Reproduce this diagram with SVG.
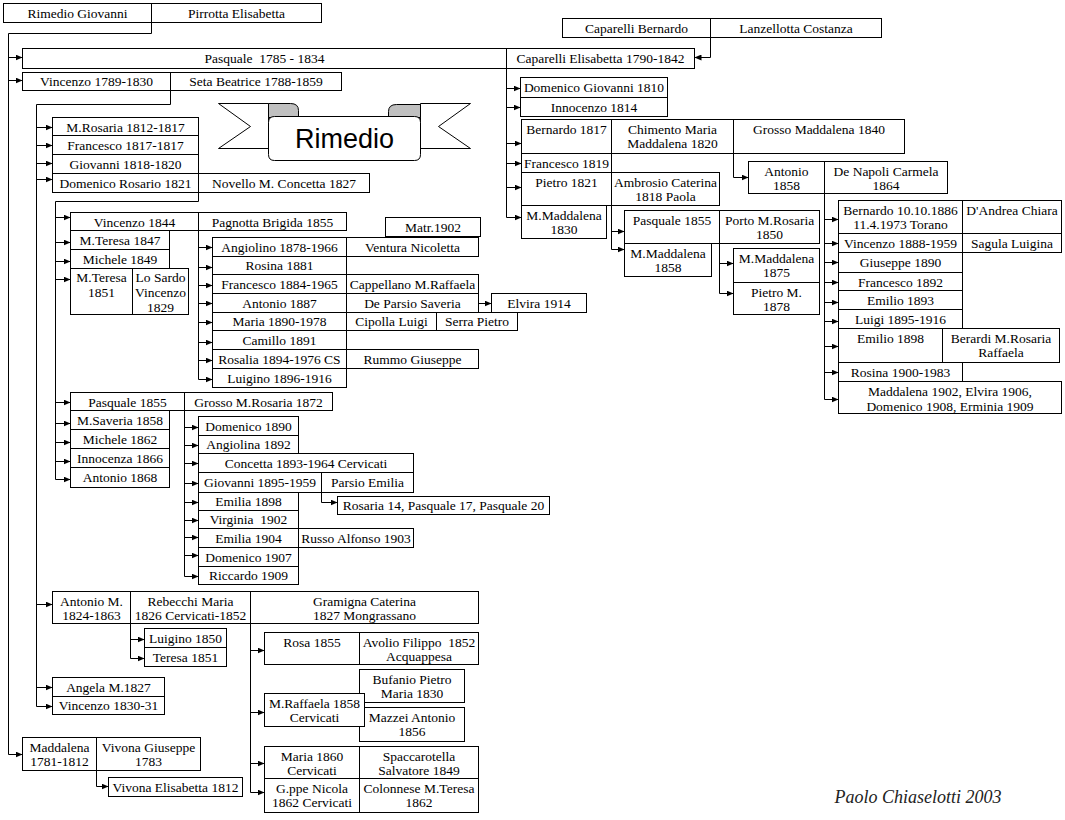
<svg xmlns="http://www.w3.org/2000/svg" width="1065" height="820" viewBox="0 0 1065 820">
<defs>
<style>
.b{fill:#fff;stroke:#000;stroke-width:1}
.t{font-family:"Liberation Serif","Times New Roman",serif;font-size:13.5px;text-anchor:middle;fill:#000}
.c{fill:none;stroke:#000;stroke-width:1}
.a{marker-end:url(#ah)}
.p{white-space:pre}
</style>
<marker id="ah" markerWidth="7" markerHeight="6" refX="7" refY="3" orient="auto" markerUnits="userSpaceOnUse"><path d="M0,0 L7,3 L0,6 Z" fill="#000"/></marker>
</defs>
<rect width="1065" height="820" fill="#fff"/>
<g transform="translate(0.5,0.5)">
<g id="connectors">
<path class="c a" d="M151,22 V33 H8 V754 H22"/>
<path class="c a" d="M8,57 H22"/>
<path class="c a" d="M8,80 H22"/>
<path class="c a" d="M710,37 V57 H694"/>
<path class="c a" d="M506,68 V217 H521"/>
<path class="c a" d="M506,88 H520"/>
<path class="c a" d="M506,107 H520"/>
<path class="c a" d="M506,143 H521"/>
<path class="c a" d="M506,163 H521"/>
<path class="c a" d="M506,187 H521"/>
<path class="c a" d="M170,90 V104 H36 V706 H52"/>
<path class="c a" d="M36,127 H52"/>
<path class="c a" d="M36,145 H52"/>
<path class="c a" d="M36,163 H52"/>
<path class="c a" d="M36,179 H52"/>
<path class="c a" d="M36,604 H52"/>
<path class="c a" d="M36,687 H52"/>
<path class="c a" d="M198,192 V201 H55 V479 H70"/>
<path class="c a" d="M55,217 H70"/>
<path class="c a" d="M55,242 H70"/>
<path class="c a" d="M55,261 H70"/>
<path class="c a" d="M55,279 H70"/>
<path class="c a" d="M55,402 H70"/>
<path class="c a" d="M55,423 H70"/>
<path class="c a" d="M55,442 H70"/>
<path class="c a" d="M55,461 H70"/>
<path class="c a" d="M198,230 V379 H212"/>
<path class="c a" d="M198,247 H212"/>
<path class="c a" d="M198,267 H212"/>
<path class="c a" d="M198,285 H212"/>
<path class="c a" d="M198,303 H212"/>
<path class="c a" d="M198,322 H212"/>
<path class="c a" d="M198,342 H212"/>
<path class="c a" d="M198,360 H212"/>
<path class="c a" d="M478,303 H491"/>
<path class="c a" d="M184,410 V576 H198"/>
<path class="c a" d="M184,427 H198"/>
<path class="c a" d="M184,445 H198"/>
<path class="c a" d="M184,463 H198"/>
<path class="c a" d="M184,483 H198"/>
<path class="c a" d="M184,502 H198"/>
<path class="c a" d="M184,520 H198"/>
<path class="c a" d="M184,537 H198"/>
<path class="c a" d="M184,555 H198"/>
<path class="c a" d="M321,492 V502 H337"/>
<path class="c a" d="M733,153 V177 H748"/>
<path class="c a" d="M611,205 V249 H624"/>
<path class="c a" d="M611,231 H624"/>
<path class="c a" d="M719,243 V293 H733"/>
<path class="c a" d="M719,263 H733"/>
<path class="c a" d="M824,193 V399 H838"/>
<path class="c a" d="M824,219 H838"/>
<path class="c a" d="M824,243 H838"/>
<path class="c a" d="M824,262 H838"/>
<path class="c a" d="M824,282 H838"/>
<path class="c a" d="M824,302 H838"/>
<path class="c a" d="M824,321 H838"/>
<path class="c a" d="M824,346 H838"/>
<path class="c a" d="M824,372 H838"/>
<path class="c a" d="M130,623 V658 H144"/>
<path class="c a" d="M130,639 H144"/>
<path class="c a" d="M250,623 V792 H264"/>
<path class="c a" d="M250,650 H264"/>
<path class="c a" d="M250,712 H264"/>
<path class="c a" d="M250,763 H264"/>
<path class="c a" d="M96,770 V786 H108"/>
</g>
<g id="banner">
<path class="b" d="M218,103 H268 V148 H218 L250,126 Z"/>
<path class="b" d="M420,103 H470 L438,126 L470,148 H420 Z"/>
<path d="M268,117 V103 H290 Q298,103 298,110 V117 Z" fill="#c0c0c0" stroke="#000"/>
<path d="M420,117 V104 H396 Q388,104 388,111 V117 Z" fill="#c0c0c0" stroke="#000"/>
<path class="b" d="M268,122 Q268,116 274,116 H414 Q420,116 420,122 V154 Q420,160 414,160 H274 Q268,160 268,154 Z"/>
<text x="344" y="147" style="font-family:'Liberation Sans',Arial,sans-serif;font-size:27px;text-anchor:middle">Rimedio</text>
</g>
<g id="n1"><rect class="b" x="3" y="3" width="148" height="19"/><text class="t" x="77" y="17">Rimedio Giovanni</text></g>
<g id="n2"><rect class="b" x="151" y="3" width="170" height="19"/><text class="t" x="236" y="17">Pirrotta Elisabetta</text></g>
<g id="n3"><rect class="b" x="562" y="18" width="148" height="19"/><text class="t" x="636" y="32">Caparelli Bernardo</text></g>
<g id="n4"><rect class="b" x="710" y="18" width="171" height="19"/><text class="t" x="795.5" y="32">Lanzellotta Costanza</text></g>
<g id="n5"><rect class="b" x="22" y="48" width="484" height="20"/><text class="t p" x="264" y="62">Pasquale  1785 - 1834</text></g>
<g id="n6"><rect class="b" x="506" y="48" width="188" height="20"/><text class="t" x="600" y="62">Caparelli Elisabetta 1790-1842</text></g>
<g id="n7"><rect class="b" x="22" y="72" width="148" height="18"/><text class="t" x="96" y="85">Vincenzo 1789-1830</text></g>
<g id="n8"><rect class="b" x="170" y="72" width="171" height="18"/><text class="t" x="255.5" y="85">Seta Beatrice 1788-1859</text></g>
<g id="n9"><rect class="b" x="52" y="117" width="146" height="18"/><text class="t" x="125" y="131">M.Rosaria 1812-1817</text></g>
<g id="n10"><rect class="b" x="52" y="135" width="146" height="19"/><text class="t" x="125" y="149">Francesco 1817-1817</text></g>
<g id="n11"><rect class="b" x="52" y="154" width="146" height="19"/><text class="t" x="125" y="168">Giovanni 1818-1820</text></g>
<g id="n12"><rect class="b" x="52" y="173" width="146" height="19"/><text class="t" x="125" y="187">Domenico Rosario 1821</text></g>
<g id="n13"><rect class="b" x="198" y="173" width="171" height="19"/><text class="t" x="283.5" y="187">Novello M. Concetta 1827</text></g>
<g id="n14"><rect class="b" x="520" y="77" width="147" height="20"/><text class="t" x="593.5" y="91">Domenico Giovanni 1810</text></g>
<g id="n15"><rect class="b" x="520" y="97" width="147" height="19"/><text class="t" x="593.5" y="111">Innocenzo 1814</text></g>
<g id="n16"><rect class="b" x="521" y="119" width="90" height="34"/><text class="t" x="566" y="133">Bernardo 1817</text></g>
<g id="n17"><rect class="b" x="611" y="119" width="122" height="34"/><text class="t" x="672" y="133">Chimento Maria</text><text class="t" x="672" y="147.5">Maddalena 1820</text></g>
<g id="n18"><rect class="b" x="733" y="119" width="171" height="34"/><text class="t" x="818.5" y="133">Grosso Maddalena 1840</text></g>
<g id="n19"><rect class="b" x="521" y="153" width="90" height="19"/><text class="t" x="566" y="167">Francesco 1819</text></g>
<g id="n20"><rect class="b" x="521" y="172" width="90" height="33"/><text class="t" x="566" y="186">Pietro 1821</text></g>
<g id="n21"><rect class="b" x="611" y="172" width="108" height="33"/><text class="t" x="665" y="186">Ambrosio Caterina</text><text class="t" x="665" y="200.5">1818 Paola</text></g>
<g id="n22"><rect class="b" x="521" y="205" width="85" height="33"/><text class="t" x="563.5" y="219">M.Maddalena</text><text class="t" x="563.5" y="233.5">1830</text></g>
<g id="n23"><rect class="b" x="748" y="161" width="76" height="32"/><text class="t" x="786" y="175">Antonio</text><text class="t" x="786" y="189.5">1858</text></g>
<g id="n24"><rect class="b" x="824" y="161" width="123" height="32"/><text class="t" x="885.5" y="175">De Napoli Carmela</text><text class="t" x="885.5" y="189.5">1864</text></g>
<g id="n25"><rect class="b" x="624" y="210" width="95" height="33"/><text class="t" x="671.5" y="224">Pasquale 1855</text></g>
<g id="n26"><rect class="b" x="719" y="210" width="100" height="33"/><text class="t" x="769" y="224">Porto M.Rosaria</text><text class="t" x="769" y="238.5">1850</text></g>
<g id="n27"><rect class="b" x="624" y="243" width="87" height="33"/><text class="t" x="667.5" y="257">M.Maddalena</text><text class="t" x="667.5" y="271.5">1858</text></g>
<g id="n28"><rect class="b" x="733" y="248" width="86" height="34"/><text class="t" x="776" y="262">M.Maddalena</text><text class="t" x="776" y="276.5">1875</text></g>
<g id="n29"><rect class="b" x="733" y="282" width="86" height="32"/><text class="t" x="776" y="296">Pietro M.</text><text class="t" x="776" y="310.5">1878</text></g>
<g id="n30"><rect class="b" x="838" y="200" width="124" height="33"/><text class="t" x="900" y="214">Bernardo 10.10.1886</text><text class="t" x="900" y="228.5">11.4.1973 Torano</text></g>
<g id="n31"><rect class="b" x="962" y="200" width="99" height="33"/><text class="t" x="1011.5" y="214">D'Andrea Chiara</text></g>
<g id="n32"><rect class="b" x="838" y="233" width="124" height="19"/><text class="t" x="900" y="247">Vincenzo 1888-1959</text></g>
<g id="n33"><rect class="b" x="962" y="233" width="99" height="19"/><text class="t" x="1011.5" y="247">Sagula Luigina</text></g>
<g id="n34"><rect class="b" x="838" y="252" width="124" height="20"/><text class="t" x="900" y="266">Giuseppe 1890</text></g>
<g id="n35"><rect class="b" x="838" y="272" width="124" height="18"/><text class="t" x="900" y="286">Francesco 1892</text></g>
<g id="n36"><rect class="b" x="838" y="290" width="124" height="19"/><text class="t" x="900" y="304">Emilio 1893</text></g>
<g id="n37"><rect class="b" x="838" y="309" width="124" height="19"/><text class="t" x="900" y="323">Luigi 1895-1916</text></g>
<g id="n38"><rect class="b" x="838" y="328" width="104" height="34"/><text class="t" x="890" y="342">Emilio 1898</text></g>
<g id="n39"><rect class="b" x="942" y="328" width="117" height="34"/><text class="t" x="1000.5" y="342">Berardi M.Rosaria</text><text class="t" x="1000.5" y="356.5">Raffaela</text></g>
<g id="n40"><rect class="b" x="838" y="362" width="124" height="19"/><text class="t" x="900" y="376">Rosina 1900-1983</text></g>
<g id="n41"><rect class="b" x="838" y="381" width="223" height="32"/><text class="t" x="949.5" y="395">Maddalena 1902, Elvira 1906,</text><text class="t" x="949.5" y="410">Domenico 1908, Erminia 1909</text></g>
<g id="n42"><rect class="b" x="70" y="212" width="128" height="18"/><text class="t" x="134" y="226">Vincenzo 1844</text></g>
<g id="n43"><rect class="b" x="198" y="212" width="148" height="18"/><text class="t" x="272" y="226">Pagnotta Brigida 1855</text></g>
<g id="n44"><rect class="b" x="70" y="230" width="99" height="19"/><text class="t" x="119.5" y="244.5">M.Teresa 1847</text></g>
<g id="n45"><rect class="b" x="70" y="249" width="99" height="19"/><text class="t" x="119.5" y="263">Michele 1849</text></g>
<g id="n46"><rect class="b" x="70" y="268" width="62" height="46"/><text class="t" x="101" y="281.5">M.Teresa</text><text class="t" x="101" y="296.5">1851</text></g>
<g id="n47"><rect class="b" x="132" y="268" width="56" height="46"/><text class="t" x="160" y="281.5">Lo Sardo</text><text class="t" x="160" y="296.5">Vincenzo</text><text class="t" x="160" y="311">1829</text></g>
<g id="n48"><rect class="b" x="385" y="217" width="95" height="19"/><text class="t" x="432.5" y="231">Matr.1902</text></g>
<g id="n49"><rect class="b" x="212" y="237" width="134" height="19"/><text class="t" x="279" y="251">Angiolino 1878-1966</text></g>
<g id="n50"><rect class="b" x="346" y="237" width="132" height="19"/><text class="t" x="412" y="251">Ventura Nicoletta</text></g>
<g id="n51"><rect class="b" x="212" y="256" width="134" height="18"/><text class="t" x="279" y="269.5">Rosina 1881</text></g>
<g id="n52"><rect class="b" x="212" y="274" width="134" height="19"/><text class="t" x="279" y="288">Francesco 1884-1965</text></g>
<g id="n53"><rect class="b" x="346" y="274" width="132" height="19"/><text class="t" x="412" y="288">Cappellano M.Raffaela</text></g>
<g id="n54"><rect class="b" x="212" y="293" width="134" height="19"/><text class="t" x="279" y="307">Antonio 1887</text></g>
<g id="n55"><rect class="b" x="346" y="293" width="132" height="19"/><text class="t" x="412" y="307">De Parsio Saveria</text></g>
<g id="n56"><rect class="b" x="491" y="293" width="95" height="19"/><text class="t" x="538.5" y="307">Elvira 1914</text></g>
<g id="n57"><rect class="b" x="212" y="312" width="134" height="18"/><text class="t" x="279" y="325.5">Maria 1890-1978</text></g>
<g id="n58"><rect class="b" x="346" y="312" width="90" height="18"/><text class="t" x="391" y="325.5">Cipolla Luigi</text></g>
<g id="n59"><rect class="b" x="436" y="312" width="81" height="18"/><text class="t" x="476.5" y="325.5">Serra Pietro</text></g>
<g id="n60"><rect class="b" x="212" y="330" width="134" height="19"/><text class="t" x="279" y="344">Camillo 1891</text></g>
<g id="n61"><rect class="b" x="212" y="349" width="134" height="19"/><text class="t" x="279" y="363">Rosalia 1894-1976 CS</text></g>
<g id="n62"><rect class="b" x="346" y="349" width="132" height="19"/><text class="t" x="412" y="363">Rummo Giuseppe</text></g>
<g id="n63"><rect class="b" x="212" y="368" width="134" height="19"/><text class="t" x="279" y="382">Luigino 1896-1916</text></g>
<g id="n64"><rect class="b" x="70" y="392" width="114" height="18"/><text class="t" x="127" y="406">Pasquale 1855</text></g>
<g id="n65"><rect class="b" x="184" y="392" width="148" height="18"/><text class="t" x="258" y="406">Grosso M.Rosaria 1872</text></g>
<g id="n66"><rect class="b" x="70" y="410" width="99" height="19"/><text class="t" x="119.5" y="424.5">M.Saveria 1858</text></g>
<g id="n67"><rect class="b" x="70" y="429" width="99" height="19"/><text class="t" x="119.5" y="443">Michele 1862</text></g>
<g id="n68"><rect class="b" x="70" y="448" width="99" height="19"/><text class="t" x="119.5" y="462">Innocenza 1866</text></g>
<g id="n69"><rect class="b" x="70" y="467" width="99" height="20"/><text class="t" x="119.5" y="481.5">Antonio 1868</text></g>
<g id="n70"><rect class="b" x="198" y="416" width="100" height="19"/><text class="t" x="248" y="430">Domenico 1890</text></g>
<g id="n71"><rect class="b" x="198" y="435" width="100" height="18"/><text class="t" x="248" y="448.5">Angiolina 1892</text></g>
<g id="n72"><rect class="b" x="198" y="453" width="215" height="19"/><text class="t" x="305.5" y="467">Concetta 1893-1964 Cervicati</text></g>
<g id="n73"><rect class="b" x="198" y="472" width="123" height="20"/><text class="t" x="259.5" y="486.5">Giovanni 1895-1959</text></g>
<g id="n74"><rect class="b" x="321" y="472" width="92" height="20"/><text class="t" x="367" y="486.5">Parsio Emilia</text></g>
<g id="n75"><rect class="b" x="337" y="496" width="212" height="18"/><text class="t" x="443" y="509.5">Rosaria 14, Pasquale 17, Pasquale 20</text></g>
<g id="n76"><rect class="b" x="198" y="492" width="100" height="18"/><text class="t" x="248" y="505.5">Emilia 1898</text></g>
<g id="n77"><rect class="b" x="198" y="510" width="100" height="18"/><text class="t p" x="248" y="523.5">Virginia  1902</text></g>
<g id="n78"><rect class="b" x="198" y="528" width="100" height="19"/><text class="t" x="248" y="542">Emilia 1904</text></g>
<g id="n79"><rect class="b" x="298" y="528" width="115" height="19"/><text class="t" x="355.5" y="542">Russo Alfonso 1903</text></g>
<g id="n80"><rect class="b" x="198" y="547" width="100" height="19"/><text class="t" x="248" y="561">Domenico 1907</text></g>
<g id="n81"><rect class="b" x="198" y="566" width="100" height="18"/><text class="t" x="248" y="579.5">Riccardo 1909</text></g>
<g id="n82"><rect class="b" x="52" y="591" width="78" height="32"/><text class="t" x="91" y="605">Antonio M.</text><text class="t" x="91" y="619.5">1824-1863</text></g>
<g id="n83"><rect class="b" x="130" y="591" width="120" height="32"/><text class="t" x="190" y="605">Rebecchi Maria</text><text class="t" x="190" y="619.5">1826 Cervicati-1852</text></g>
<g id="n84"><rect class="b" x="250" y="591" width="228" height="32"/><text class="t" x="364" y="605">Gramigna Caterina</text><text class="t" x="364" y="619.5">1827 Mongrassano</text></g>
<g id="n85"><rect class="b" x="144" y="628" width="82" height="19"/><text class="t" x="185" y="642.5">Luigino 1850</text></g>
<g id="n86"><rect class="b" x="144" y="647" width="82" height="19"/><text class="t" x="185" y="661">Teresa 1851</text></g>
<g id="n87"><rect class="b" x="52" y="677" width="112" height="19"/><text class="t" x="108" y="691">Angela M.1827</text></g>
<g id="n88"><rect class="b" x="52" y="696" width="112" height="18"/><text class="t" x="108" y="709.5">Vincenzo 1830-31</text></g>
<g id="n89"><rect class="b" x="264" y="632" width="95" height="32"/><text class="t" x="311.5" y="646">Rosa 1855</text></g>
<g id="n90"><rect class="b" x="359" y="632" width="119" height="32"/><text class="t p" x="418.5" y="646">Avolio Filippo  1852</text><text class="t" x="418.5" y="660.5">Acquappesa</text></g>
<g id="n91"><rect class="b" x="359" y="669" width="105" height="33"/><text class="t" x="411.5" y="683">Bufanio Pietro</text><text class="t" x="411.5" y="697.5">Maria 1830</text></g>
<g id="n93"><rect class="b" x="359" y="707" width="105" height="34"/><text class="t" x="411.5" y="721">Mazzei Antonio</text><text class="t" x="411.5" y="735.5">1856</text></g>
<g id="n92"><rect class="b" x="264" y="693" width="100" height="33"/><text class="t" x="314" y="707">M.Raffaela 1858</text><text class="t" x="314" y="721.5">Cervicati</text></g>
<g id="n94"><rect class="b" x="264" y="746" width="95" height="32"/><text class="t" x="311.5" y="760">Maria 1860</text><text class="t" x="311.5" y="774.5">Cervicati</text></g>
<g id="n95"><rect class="b" x="359" y="746" width="119" height="32"/><text class="t" x="418.5" y="760">Spaccarotella</text><text class="t" x="418.5" y="774.5">Salvatore 1849</text></g>
<g id="n96"><rect class="b" x="264" y="778" width="95" height="34"/><text class="t" x="311.5" y="792">G.ppe Nicola</text><text class="t" x="311.5" y="806.5">1862 Cervicati</text></g>
<g id="n97"><rect class="b" x="359" y="778" width="119" height="34"/><text class="t" x="418.5" y="792">Colonnese M.Teresa</text><text class="t" x="418.5" y="806.5">1862</text></g>
<g id="n98"><rect class="b" x="22" y="737" width="74" height="33"/><text class="t" x="59" y="751">Maddalena</text><text class="t" x="59" y="765.5">1781-1812</text></g>
<g id="n99"><rect class="b" x="96" y="737" width="104" height="33"/><text class="t" x="148" y="751">Vivona Giuseppe</text><text class="t" x="148" y="765.5">1783</text></g>
<g id="n100"><rect class="b" x="108" y="777" width="134" height="19"/><text class="t" x="175" y="791">Vivona Elisabetta 1812</text></g>
<text x="834" y="802" style="font-family:'Liberation Serif','Times New Roman',serif;font-style:italic;font-size:18px;fill:#222">Paolo Chiaselotti 2003</text>
</g>
</svg>
